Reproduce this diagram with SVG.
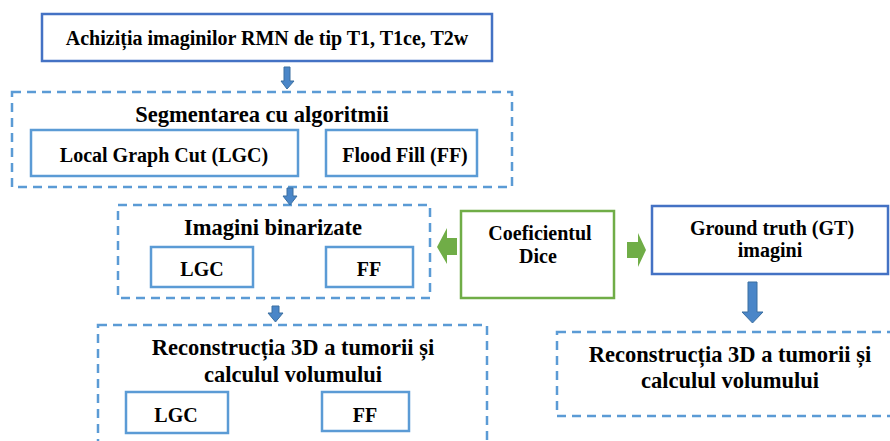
<svg xmlns="http://www.w3.org/2000/svg" width="890" height="441" viewBox="0 0 890 441">
<style>
.solidDark{fill:#fff;stroke:#4472C4;stroke-width:2.5}
.solidLight{fill:#fff;stroke:#5B9BD5;stroke-width:2.5}
.dash{fill:none;stroke:#5B9BD5;stroke-width:2.5;stroke-dasharray:9 6}
.green{fill:#fff;stroke:#70AD47;stroke-width:2.5}
.barrow{fill:#4A86C8;stroke:#3B6FA0;stroke-width:1}
.garrow{fill:#70AD47;stroke:none}
</style>
<rect width="890" height="441" fill="#fff"/>
<g id="acquisition">
<rect class="solidDark" x="42" y="14" width="450" height="47"/>
<text font-family="Liberation Serif" font-weight="bold" font-size="20" text-anchor="middle" x="267" y="45">Achiziția imaginilor RMN de tip T1, T1ce, T2w</text>
</g>
<g id="segmentation">
<rect class="dash" x="12" y="92" width="500" height="95"/>
<text font-family="Liberation Serif" font-weight="bold" font-size="22.5" text-anchor="middle" x="262" y="122">Segmentarea cu algoritmii</text>
</g>
<g id="seg-lgc">
<rect class="solidLight" x="31" y="130" width="267" height="46"/>
<text font-family="Liberation Serif" font-weight="bold" font-size="20" text-anchor="middle" x="164" y="162">Local Graph Cut (LGC)</text>
</g>
<g id="seg-ff">
<rect class="solidLight" x="326" y="130" width="151" height="46"/>
<text font-family="Liberation Serif" font-weight="bold" font-size="20" text-anchor="middle" x="405" y="162">Flood Fill (FF)</text>
</g>
<g id="binarized">
<rect class="dash" x="118" y="205" width="312" height="93"/>
<text font-family="Liberation Serif" font-weight="bold" font-size="22.5" text-anchor="middle" x="273" y="235">Imagini binarizate</text>
</g>
<g id="bin-lgc">
<rect class="solidLight" x="151" y="247" width="102" height="40"/>
<text font-family="Liberation Serif" font-weight="bold" font-size="20" text-anchor="middle" x="202" y="276">LGC</text>
</g>
<g id="bin-ff">
<rect class="solidLight" x="326" y="247" width="87" height="40"/>
<text font-family="Liberation Serif" font-weight="bold" font-size="20" text-anchor="middle" x="369" y="276">FF</text>
</g>
<g id="reconstruction">
<rect class="dash" x="98" y="325" width="389" height="130"/>
<text font-family="Liberation Serif" font-weight="bold" font-size="22.5" text-anchor="middle" x="293" y="355">Reconstrucția 3D a tumorii și</text>
<text font-family="Liberation Serif" font-weight="bold" font-size="22.5" text-anchor="middle" x="293" y="382">calculul volumului</text>
</g>
<g id="rec-lgc">
<rect class="solidLight" x="126" y="392" width="102" height="41"/>
<text font-family="Liberation Serif" font-weight="bold" font-size="20" text-anchor="middle" x="176" y="422">LGC</text>
</g>
<g id="rec-ff">
<rect class="solidLight" x="322" y="392" width="87" height="39"/>
<text font-family="Liberation Serif" font-weight="bold" font-size="20" text-anchor="middle" x="365" y="422">FF</text>
</g>
<g id="dice">
<rect class="green" x="461" y="211" width="153" height="87"/>
<text font-family="Liberation Serif" font-weight="bold" font-size="20" text-anchor="middle" x="540" y="240">Coeficientul</text>
<text font-family="Liberation Serif" font-weight="bold" font-size="20" text-anchor="middle" x="538" y="263">Dice</text>
</g>
<g id="ground-truth">
<rect class="solidDark" x="652" y="206" width="236" height="68"/>
<text font-family="Liberation Serif" font-weight="bold" font-size="20" text-anchor="middle" x="772" y="235">Ground truth (GT)</text>
<text font-family="Liberation Serif" font-weight="bold" font-size="20" text-anchor="middle" x="770" y="257">imagini</text>
</g>
<g id="gt-reconstruction">
<rect class="dash" x="557" y="332" width="345" height="84"/>
<text font-family="Liberation Serif" font-weight="bold" font-size="22.5" text-anchor="middle" x="730" y="362">Reconstrucția 3D a tumorii și</text>
<text font-family="Liberation Serif" font-weight="bold" font-size="22.5" text-anchor="middle" x="730" y="388">calculul volumului</text>
</g>
<g id="connectors">
<path class="barrow" d="M284,67 H290 V81 H294 L287,89 L281,81 H284 Z"/>
<path class="barrow" d="M287,188 H293 V196 H297 L290,205 L283,196 H287 Z"/>
<path class="barrow" d="M272,306 H279 V313 H283 L275.5,322 L268,313 H272 Z"/>
<path class="barrow" d="M748,282 H757 V312 H763 L752.5,323 L742,312 H748 Z"/>
<path class="garrow" d="M457,238 H447 V228 L437,247 L447,264 V255 H457 Z"/>
<path class="garrow" d="M627,242 H638 V233 L646,250 L638,267 V258 H627 Z"/>
</g>
</svg>
